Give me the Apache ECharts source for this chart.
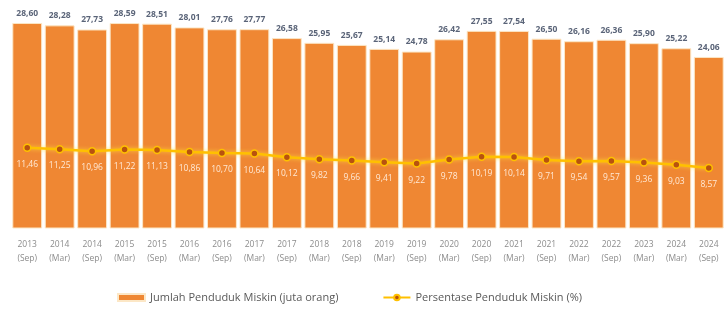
<!DOCTYPE html>
<html>
<head>
<meta charset="utf-8">
<script src="https://cdn.jsdelivr.net/npm/echarts@6/dist/echarts.min.js"></script>
<style>
  html, body { margin: 0; padding: 0; background: #fff; }
  #chart { width: 725px; height: 316px; }
</style>
</head>
<body>
<div id="chart"></div>
<script>
// periods (year + month) along the x axis
const years = ['2013', '2014', '2014', '2015', '2015', '2016', '2016', '2017', '2017', '2018', '2018',
  '2019', '2019', '2020', '2020', '2021', '2021', '2022', '2022', '2023', '2024', '2024'];
const months = ['Sep', 'Mar', 'Sep', 'Mar', 'Sep', 'Mar', 'Sep', 'Mar', 'Sep', 'Mar', 'Sep',
  'Mar', 'Sep', 'Mar', 'Sep', 'Mar', 'Sep', 'Mar', 'Sep', 'Mar', 'Mar', 'Sep'];
// jumlah penduduk miskin (juta orang)
const jumlah = [28.60, 28.28, 27.73, 28.59, 28.51, 28.01, 27.76, 27.77, 26.58, 25.95, 25.67,
  25.14, 24.78, 26.42, 27.55, 27.54, 26.50, 26.16, 26.36, 25.90, 25.22, 24.06];
// persentase penduduk miskin (%)
const persen = [11.46, 11.25, 10.96, 11.22, 11.13, 10.86, 10.70, 10.64, 10.12, 9.82, 9.66,
  9.41, 9.22, 9.78, 10.19, 10.14, 9.71, 9.54, 9.57, 9.36, 9.03, 8.57];

const categories = years.map((y, i) => y + '\n(' + months[i] + ')');
const fmt = v => v.toFixed(2).replace('.', ',');

const chart = echarts.init(document.getElementById('chart'));
chart.setOption({
  animation: false,
  grid: { left: 11, right: -3, top: 11, bottom: 88 },
  legend: {
    bottom: 8,
    left: 112,
    itemGap: 44,
    itemWidth: 27,
    itemHeight: 7,
    textStyle: { color: '#595959', fontSize: 11, fontFamily: 'Open Sans' },
    data: [
      { name: 'Jumlah Penduduk Miskin (juta orang)', icon: 'rect' },
      { name: 'Persentase Penduduk Miskin (%)' }
    ]
  },
  xAxis: {
    type: 'category',
    data: categories,
    axisLine: { show: false },
    axisTick: { show: false },
    axisLabel: {
      color: '#8c8c8c',
      fontSize: 8.5,
      lineHeight: 14,
      margin: 10,
      fontFamily: 'Open Sans'
    }
  },
  yAxis: [
    { type: 'value', min: 1.2, max: 30.2, show: false },
    { type: 'value', min: 0, max: 31, show: false }
  ],
  series: [
    {
      name: 'Jumlah Penduduk Miskin (juta orang)',
      type: 'bar',
      data: jumlah,
      barCategoryGap: '8%',
      itemStyle: { color: '#EF8733', borderColor: '#FCE7C6', borderWidth: 1 },
      label: {
        show: true,
        position: 'top',
        distance: 5,
        color: '#5a6478',
        fontSize: 8.5,
        fontWeight: 'bold',
        fontFamily: 'Open Sans',
        formatter: p => fmt(p.value)
      }
    },
    {
      name: 'Persentase Penduduk Miskin (%)',
      type: 'line',
      yAxisIndex: 1,
      data: persen,
      symbol: 'circle',
      symbolSize: 7,
      lineStyle: { color: '#FFC000', width: 2.5, shadowColor: 'rgba(255,220,60,0.8)', shadowBlur: 4 },
      itemStyle: { color: '#B8520F', borderColor: '#FFC000', borderWidth: 1.5 },
      label: {
        show: true,
        position: 'bottom',
        distance: 8,
        color: '#FFE9D6',
        fontSize: 8.5,
        fontFamily: 'Open Sans',
        formatter: p => fmt(p.value)
      }
    }
  ]
});
</script>
</body>
</html>
